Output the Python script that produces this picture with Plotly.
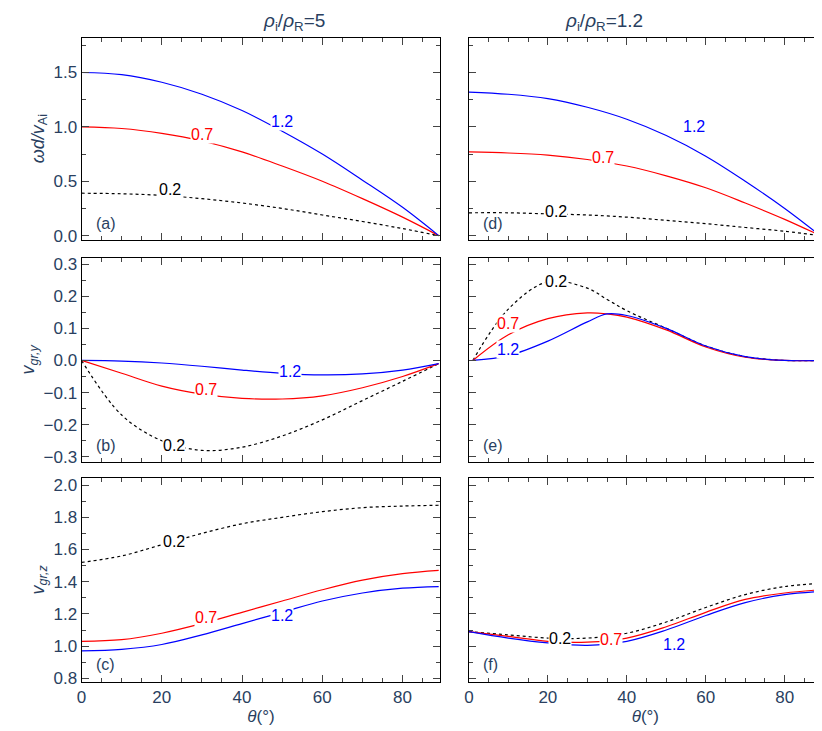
import plotly.graph_objects as go

theta = [0, 10, 20, 30, 40, 50, 60, 70, 80, 89]
# panel a
a_12 = [1.5, 1.48, 1.41, 1.30, 1.15, 0.96, 0.75, 0.51, 0.26, 0.0]
a_07 = [1.0, 0.985, 0.94, 0.87, 0.77, 0.64, 0.50, 0.34, 0.17, 0.0]
a_02 = [0.39, 0.385, 0.37, 0.34, 0.30, 0.25, 0.19, 0.13, 0.065, 0.0]
# panel d
d_12 = [1.32, 1.30, 1.26, 1.18, 1.07, 0.92, 0.73, 0.50, 0.25, 0.0]
d_07 = [0.77, 0.76, 0.74, 0.70, 0.64, 0.55, 0.44, 0.30, 0.15, 0.0]
d_02 = [0.21, 0.21, 0.20, 0.19, 0.17, 0.14, 0.11, 0.075, 0.04, 0.0]
# panel b
b_12 = [0, -0.002, -0.008, -0.018, -0.03, -0.04, -0.045, -0.042, -0.03, -0.01]
b_07 = [0, -0.04, -0.08, -0.105, -0.118, -0.12, -0.11, -0.085, -0.05, -0.01]
b_02 = [0, -0.17, -0.25, -0.28, -0.27, -0.235, -0.185, -0.125, -0.065, -0.01]
# panel e
theta_e = [1, 10, 20, 30, 35, 40, 50, 60, 70, 80, 89]
e_12 = [0.0, 0.015, 0.06, 0.12, 0.145, 0.14, 0.10, 0.045, 0.012, 0.0, 0.0]
e_07 = [0.0, 0.08, 0.13, 0.148, 0.145, 0.135, 0.095, 0.042, 0.01, 0.0, 0.0]
e_02 = [0.0, 0.16, 0.245, 0.225, 0.19, 0.155, 0.10, 0.045, 0.012, 0.0, 0.0]
# panel c
c_02 = [1.52, 1.56, 1.63, 1.70, 1.76, 1.80, 1.835, 1.86, 1.87, 1.875]
c_07 = [1.03, 1.04, 1.08, 1.14, 1.21, 1.28, 1.35, 1.41, 1.45, 1.47]
c_12 = [0.97, 0.98, 1.01, 1.07, 1.14, 1.21, 1.28, 1.33, 1.36, 1.37]
# panel f
f_02 = [1.09, 1.07, 1.05, 1.05, 1.08, 1.15, 1.24, 1.32, 1.37, 1.39]
f_07 = [1.09, 1.06, 1.03, 1.025, 1.05, 1.12, 1.21, 1.29, 1.33, 1.35]
f_12 = [1.09, 1.05, 1.02, 1.005, 1.03, 1.10, 1.19, 1.27, 1.32, 1.34]

FONT = "Liberation Sans"
fig = go.Figure()
xdom = {1: [0.0839, 0.523], 2: [0.558, 0.99]}
ydom = {1: [0.683, 0.963], 2: [0.375, 0.657], 3: [0.070, 0.352]}
yrng = {1: [-0.036, 1.82], 2: [-0.315, 0.318], 3: [0.78, 2.043]}
ydt = {1: 0.5, 2: 0.1, 3: 0.2}
ytitle = {1: "<i>ωd/v</i><sub>Ai</sub>", 2: "<i>v</i><sub><i>gr,y</i></sub>", 3: "<i>v</i><sub><i>gr,z</i></sub>"}

panels = [
    (1, 1, theta, a_12, a_07, a_02, "(a)", [(50, 1.05), (30, 0.93), (22, 0.42)]),
    (1, 2, theta, d_12, d_07, d_02, "(d)", [(57, 1.0), (34, 0.72), (22, 0.22)]),
    (2, 1, theta, b_12, b_07, b_02, "(b)", [(52, -0.035), (31, -0.09), (23, -0.265)]),
    (2, 2, theta_e, e_12, e_07, e_02, "(e)", [(10, 0.035), (10, 0.115), (22, 0.245)]),
    (3, 1, theta, c_12, c_07, c_02, "(c)", [(50, 1.19), (31, 1.18), (23, 1.65)]),
    (3, 2, theta, f_12, f_07, f_02, "(f)", [(52, 1.01), (36, 1.04), (23, 1.05)]),
]
idx = 0
for row, col, xs, s12, s07, s02, lab, lpos in panels:
    idx += 1
    xa = "x" if idx == 1 else f"x{idx}"
    ya = "y" if idx == 1 else f"y{idx}"
    for ys, color, dash in [(s02, "black", "dot"), (s07, "red", "solid"), (s12, "blue", "solid")]:
        fig.add_trace(go.Scatter(x=xs, y=ys, mode="lines", line=dict(color=color, width=1.2, dash=dash, shape="spline"),
                                 xaxis=xa, yaxis=ya, showlegend=False))
    for (px, py), txt, color in zip(lpos, ["1.2", "0.7", "0.2"], ["blue", "red", "black"]):
        fig.add_annotation(x=px, y=py, xref=xa, yref=ya, text=txt, showarrow=False, bgcolor="white",
                           font=dict(color=color, size=16, family=FONT), borderpad=0)
    fig.add_annotation(x=3, y=0.03, xref=xa, yref=f"{ya} domain", text=lab, showarrow=False, xanchor="left",
                       yanchor="bottom", font=dict(size=16, family=FONT))
    ax = dict(domain=xdom[col], range=[0, 89.4], anchor=ya, tickvals=[0, 20, 40, 60, 80],
              ticks="inside", ticklen=7, mirror="allticks", showline=True, linecolor="black", linewidth=1,
              showgrid=False, zeroline=False, tickfont=dict(size=17, family=FONT),
              minor=dict(ticks="inside", ticklen=4, dtick=5, tick0=0, showgrid=False),
              showticklabels=(row == 3))
    if row == 3:
        ax["title"] = dict(text="<i>θ</i>(°)", font=dict(size=17, family=FONT), standoff=2)
    ay = dict(domain=ydom[row], range=yrng[row], anchor=xa, dtick=ydt[row], tick0=0,
              ticks="inside", ticklen=7, mirror="allticks", showline=True, linecolor="black", linewidth=1,
              showgrid=False, zeroline=False, tickfont=dict(size=17, family=FONT), tickformat=".1f",
              minor=dict(ticks="inside", ticklen=4, dtick=ydt[row] / 2 if row != 3 else 0.1, showgrid=False),
              showticklabels=(col == 1))
    if col == 1:
        ay["title"] = dict(text=ytitle[row], font=dict(size=18, family=FONT), standoff=4)
    fig.update_layout(**{("xaxis" if idx == 1 else f"xaxis{idx}"): ax, ("yaxis" if idx == 1 else f"yaxis{idx}"): ay})

fig.add_annotation(x=sum(xdom[1]) / 2, y=0.965, xref="paper", yref="paper", yanchor="bottom", showarrow=False,
                   text="<i>ρ</i><sub>i</sub>/<i>ρ</i><sub>R</sub>=5", font=dict(size=19, family=FONT))
fig.add_annotation(x=sum(xdom[2]) / 2, y=0.965, xref="paper", yref="paper", yanchor="bottom", showarrow=False,
                   text="<i>ρ</i><sub>i</sub>/<i>ρ</i><sub>R</sub>=1.2", font=dict(size=19, family=FONT))
fig.update_layout(width=822, height=731, margin=dict(l=0, r=0, t=0, b=0), plot_bgcolor="white",
                  paper_bgcolor="white")
fig.write_html("out.html")
